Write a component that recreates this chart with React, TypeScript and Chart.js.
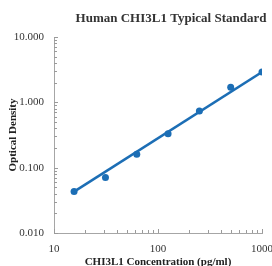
import React, { useEffect, useRef } from "react";
import { Chart, registerables } from "chart.js";

Chart.register(...registerables);

const concentrations = [15.6, 31.25, 62.5, 125, 250, 500, 1000];
const opticalDensity = [0.043, 0.071, 0.16, 0.33, 0.74, 1.7, 2.9];
const fitX = [15.6, 1000];
const fitY = [0.043, 2.9];
const xTickValues = [10, 20, 30, 40, 50, 60, 70, 80, 90, 100, 200, 300, 400, 500, 600, 700, 800, 900, 1000];
const yTickValues = [
  0.01, 0.02, 0.03, 0.04, 0.05, 0.06, 0.07, 0.08, 0.09,
  0.1, 0.2, 0.3, 0.4, 0.5, 0.6, 0.7, 0.8, 0.9,
  1, 2, 3, 4, 5, 6, 7, 8, 9, 10,
];
const chartTitle = "Human CHI3L1 Typical Standard";
const xTitle = "CHI3L1 Concentration (pg/ml)";
const yTitle = "Optical Density";

const BLUE = "#1c6eb5";
const SERIF = '"Liberation Serif", "DejaVu Serif", serif';

const isDecade = (v: number) => Math.abs(Math.log10(v) - Math.round(Math.log10(v))) < 1e-9;

const innerTicks = {
  id: "innerTicks",
  afterDraw(chart: any) {
    const { ctx, chartArea, scales } = chart;
    ctx.save();
    ctx.strokeStyle = "#9a9a9a";
    ctx.lineWidth = 1;
    ctx.beginPath();
    for (const t of scales.y.ticks) {
      const py = Math.round(scales.y.getPixelForValue(t.value)) + 0.5;
      const len = isDecade(t.value) ? 4 : 3;
      ctx.moveTo(chartArea.left, py);
      ctx.lineTo(chartArea.left + len, py);
    }
    for (const t of scales.x.ticks) {
      const px = Math.round(scales.x.getPixelForValue(t.value)) + 0.5;
      const len = isDecade(t.value) ? 4 : 3;
      ctx.moveTo(px, chartArea.bottom);
      ctx.lineTo(px, chartArea.bottom - len);
    }
    ctx.stroke();
    ctx.fillStyle = "#333";
    ctx.font = `bold 13px ${SERIF}`;
    ctx.textAlign = "center";
    ctx.textBaseline = "middle";
    ctx.fillText(chartTitle, 171, 19);
    ctx.restore();
  },
};

export default function App() {
  const ref = useRef<HTMLCanvasElement>(null);
  useEffect(() => {
    if (!ref.current) return;
    const chart = new Chart(ref.current, {
      type: "scatter",
      data: {
        datasets: [
          {
            label: "fit",
            data: fitX.map((x, i) => ({ x, y: fitY[i] })),
            showLine: true,
            borderColor: BLUE,
            borderWidth: 2.5,
            pointRadius: 0,
          },
          {
            label: "standard",
            data: concentrations.map((x, i) => ({ x, y: opticalDensity[i] })),
            showLine: false,
            backgroundColor: BLUE,
            borderColor: BLUE,
            pointRadius: 3.5,
            pointBorderWidth: 0,
          },
        ],
      },
      options: {
        responsive: false,
        animation: false,
        layout: { padding: { top: 37, right: 10, left: 0, bottom: 0 } },
        plugins: { legend: { display: false }, tooltip: { enabled: false }, title: { display: false } },
        scales: {
          x: {
            type: "logarithmic",
            min: 10,
            max: 1000,
            grid: { display: false },
            border: { display: true, color: "#a6a6a6", width: 1 },
            afterBuildTicks: (s: any) => {
              s.ticks = xTickValues.map((v) => ({ value: v, major: isDecade(v) }));
            },
            afterFit: (s: any) => {
              s.height = 33;
              s.paddingLeft = 0;
              s.paddingRight = 0;
            },
            ticks: {
              autoSkip: false,
              maxRotation: 0,
              padding: 2,
              color: "#333",
              font: { family: SERIF, size: 11 },
              callback: (v: any) => (isDecade(Number(v)) ? String(Math.round(Number(v))) : ""),
            },
            title: {
              display: true,
              text: xTitle,
              color: "#222",
              font: { family: SERIF, size: 11, weight: "bold" },
              padding: { top: 0, bottom: -3 },
            },
          },
          y: {
            type: "logarithmic",
            min: 0.01,
            max: 10,
            grid: { display: false },
            border: { display: true, color: "#a6a6a6", width: 1 },
            afterBuildTicks: (s: any) => {
              s.ticks = yTickValues.map((v) => ({ value: v, major: isDecade(v) }));
            },
            afterFit: (s: any) => {
              s.width = 54;
              s.paddingTop = 0;
              s.paddingBottom = 0;
            },
            ticks: {
              autoSkip: false,
              padding: 2,
              color: "#333",
              font: { family: SERIF, size: 11 },
              callback: (v: any) => (isDecade(Number(v)) ? Number(v).toFixed(3) : ""),
            },
            title: {
              display: true,
              text: yTitle,
              color: "#222",
              font: { family: SERIF, size: 11, weight: "bold" },
              padding: { top: 7, bottom: 0 },
            },
          },
        },
      },
      plugins: [innerTicks],
    });
    return () => chart.destroy();
  }, []);
  return (
    <canvas
      ref={ref}
      width={272}
      height={266}
      style={{ position: "absolute", left: 0, top: 0, width: 272, height: 266 }}
    />
  );
}
